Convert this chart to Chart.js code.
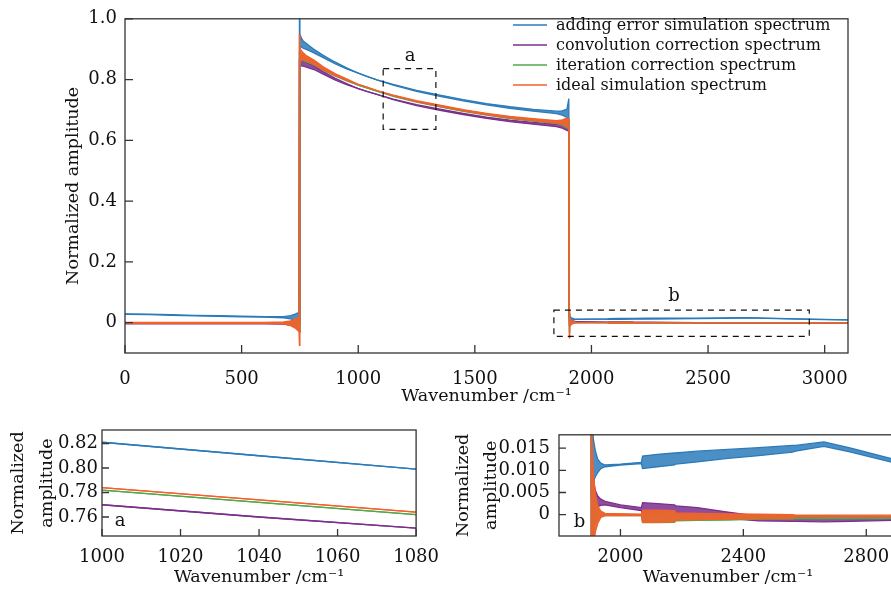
<!DOCTYPE html>
<html>
<head>
<meta charset="utf-8">
<script src="https://cdn.jsdelivr.net/npm/chart.js@4.4.1/dist/chart.umd.min.js"></script>
<style>
  html,body{margin:0;padding:0;background:#fff;overflow:hidden;width:891px;height:590px;}
  canvas{position:absolute;}
</style>
</head>
<body>
<canvas id="main" width="891" height="410" style="left:0px;top:0px;"></canvas>
<canvas id="pa" width="450" height="175" style="left:0px;top:415px;"></canvas>
<canvas id="pb" width="470" height="175" style="left:440px;top:415px;"></canvas>
<script>
// wavenumber grid (cm^-1) shared by all series
const WAVENUMBER=[0,100,200,300,400,500,600,680,710,730,740,746,748,750,756,764,775,790,810,850,900,950,1000,1040,1080,1150,1250,1350,1450,1550,1650,1750,1850,1875,1895,1903,1905,1907,1912,1918,1926,1936,1950,2000,2068,2072,2120,2176,2180,2250,2350,2450,2560,2570,2662,2750,2885,3000,3100];

// each series is drawn as a band between its upper and lower envelope (the ringing)
const BLUE_HI=[0.029,0.028,0.026,0.024,0.023,0.021,0.020,0.020,0.023,0.028,0.032,0.030,1.0,0.95,0.937,0.927,0.92,0.911,0.90,0.88,0.858,0.839,0.821,0.810,0.799,0.784,0.7645,0.749,0.734,0.721,0.7105,0.702,0.696,0.697,0.703,0.737,0.03,0.022,0.017,0.0145,0.0125,0.0116,0.0112,0.0114,0.0118,0.0132,0.0136,0.0139,0.0139,0.0143,0.0147,0.0151,0.0156,0.0156,0.0164,0.0150,0.0126,0.0106,0.0093];
const BLUE_LO=[0.027,0.026,0.024,0.022,0.021,0.019,0.018,0.016,0.012,0.008,0.006,0.004,0.0,0.91,0.907,0.903,0.90,0.895,0.888,0.872,0.852,0.835,0.821,0.810,0.799,0.782,0.7615,0.745,0.730,0.717,0.7055,0.696,0.688,0.683,0.675,0.670,0.004,0.006,0.0075,0.0085,0.0095,0.0104,0.0108,0.0112,0.0115,0.0104,0.0108,0.0112,0.0114,0.0119,0.0127,0.0133,0.0141,0.0143,0.0154,0.0141,0.0118,0.0100,0.0087];

const PURPLE_HI=[-0.002,-0.002,-0.002,-0.002,-0.002,-0.002,-0.002,-0.001,0.003,0.008,0.010,0.008,0.865,0.875,0.865,0.860,0.858,0.852,0.845,0.826,0.805,0.787,0.770,0.760,0.751,0.736,0.7175,0.703,0.689,0.676,0.6665,0.659,0.653,0.654,0.659,0.660,0.020,0.012,0.008,0.0055,0.0042,0.0035,0.0030,0.0022,0.0016,0.0027,0.0025,0.0022,0.0020,0.0016,0.0006,-0.0003,-0.0006,-0.0006,-0.0007,-0.0007,-0.0006,-0.0006,-0.0006];
const PURPLE_LO=[-0.004,-0.004,-0.004,-0.004,-0.004,-0.004,-0.004,-0.005,-0.009,-0.014,-0.018,-0.020,-0.030,0.845,0.845,0.844,0.842,0.838,0.833,0.818,0.799,0.783,0.770,0.760,0.751,0.734,0.7145,0.699,0.685,0.672,0.6615,0.653,0.645,0.640,0.633,0.630,-0.010,-0.004,-0.001,0.0008,0.0018,0.0021,0.0022,0.0016,0.0009,0.0002,0.0003,0.0002,0.0001,-0.0001,-0.0008,-0.0014,-0.0015,-0.0015,-0.0016,-0.0015,-0.0013,-0.0012,-0.0012];

const GREEN_HI=[0,0,0,0,0,0,0,0.001,0.004,0.008,0.010,0.008,0.890,0.890,0.885,0.882,0.877,0.870,0.861,0.839,0.818,0.800,0.782,0.772,0.762,0.747,0.7285,0.714,0.699,0.687,0.6765,0.669,0.663,0.665,0.671,0.668,0.030,0.012,0.006,0.003,0.0015,0.0006,0.0002,0.0001,0.0,0.0006,0.0006,0.0005,0.0002,0.0001,0.0,-0.0001,-0.0002,-0.0002,-0.0002,-0.0003,-0.0003,-0.0003,-0.0003];
const GREEN_LO=[-0.002,-0.002,-0.002,-0.002,-0.002,-0.002,-0.002,-0.003,-0.007,-0.012,-0.015,-0.018,-0.030,0.860,0.863,0.862,0.859,0.855,0.848,0.831,0.812,0.796,0.782,0.772,0.762,0.745,0.7255,0.710,0.695,0.683,0.6715,0.663,0.655,0.651,0.641,0.642,-0.030,-0.008,-0.005,-0.002,-0.001,-0.0004,-0.0002,-0.0002,-0.0002,-0.0018,-0.0018,-0.0017,-0.0014,-0.0013,-0.0012,-0.0010,-0.0010,-0.0009,-0.0009,-0.0009,-0.0008,-0.0008,-0.0008];

const ORANGE_HI=[0.0005,0.0005,0.0005,0.0005,0.0005,0.0005,0.0005,0.002,0.006,0.012,0.015,0.012,0.950,0.905,0.895,0.888,0.880,0.873,0.864,0.842,0.820,0.802,0.784,0.774,0.764,0.749,0.7305,0.716,0.701,0.689,0.6785,0.671,0.665,0.667,0.673,0.672,0.040,0.018,0.009,0.005,0.002,0.0008,0.0003,0.0002,0.0001,0.0010,0.0010,0.0009,0.0004,0.0003,0.0002,0.0001,0.0,-0.0001,-0.0001,-0.0001,-0.0001,-0.0001,-0.0001];
const ORANGE_LO=[-0.0025,-0.0025,-0.0025,-0.0025,-0.0025,-0.0025,-0.0025,-0.004,-0.010,-0.018,-0.025,-0.030,-0.075,0.860,0.865,0.864,0.862,0.857,0.850,0.832,0.814,0.798,0.784,0.774,0.764,0.747,0.7275,0.712,0.697,0.685,0.6735,0.665,0.657,0.653,0.644,0.645,-0.050,-0.012,-0.008,-0.004,-0.002,-0.0006,-0.0002,-0.0002,-0.0002,-0.0017,-0.0017,-0.0016,-0.0012,-0.0011,-0.0010,-0.0009,-0.0008,-0.0005,-0.0005,-0.0005,-0.0005,-0.0005,-0.0005];

const SERIES_NAMES=['adding error simulation spectrum','convolution correction spectrum','iteration correction spectrum','ideal simulation spectrum'];
const SERIES_COLORS=['#2b7bba','#7b2f8c','#52a84a','#f4602c'];
const SERIES_FILLS=['rgba(43,123,186,0.85)','rgba(123,47,140,0.85)','rgba(82,168,74,0.85)','rgba(244,96,44,0.9)'];

// tick values / labels
const MAIN_X_TICKS=[0,500,1000,1500,2000,2500,3000];
const MAIN_X_LABELS=['0','500','1000','1500','2000','2500','3000'];
const MAIN_Y_TICKS=[0,0.2,0.4,0.6,0.8,1.0];
const MAIN_Y_LABELS=['0','0.2','0.4','0.6','0.8','1.0'];
const A_X_TICKS=[1000,1020,1040,1060,1080];
const A_X_LABELS=['1000','1020','1040','1060','1080'];
const A_Y_TICKS=[0.76,0.78,0.80,0.82];
const A_Y_LABELS=['0.76','0.78','0.80','0.82'];
const B_X_TICKS=[2000,2400,2800];
const B_X_LABELS=['2000','2400','2800'];
const B_Y_TICKS=[0,0.005,0.010,0.015];
const B_Y_LABELS=['0','0.005','0.010','0.015'];

const FONT='DejaVu Serif';
const INK='#111';

function buildDatasets(){
  const his=[BLUE_HI,PURPLE_HI,GREEN_HI,ORANGE_HI], los=[BLUE_LO,PURPLE_LO,GREEN_LO,ORANGE_LO];
  const ds=[];
  SERIES_NAMES.forEach((name,k)=>{
    const c=SERIES_COLORS[k], order=SERIES_NAMES.length-k;
    ds.push({label:name,data:WAVENUMBER.map((x,i)=>({x,y:his[k][i]})),borderColor:c,borderWidth:1.3,pointRadius:0,fill:false,order});
    ds.push({label:'',data:WAVENUMBER.map((x,i)=>({x,y:los[k][i]})),borderColor:c,backgroundColor:SERIES_FILLS[k],borderWidth:1.3,pointRadius:0,fill:'-1',order});
  });
  return ds;
}

// box, inward ticks, dashed zoom boxes, text marks, legend
function framePlugin(cfg){
  return {id:'frame',afterDraw(chart){
    const {ctx,chartArea:a,scales:{x,y}}=chart;
    ctx.save();
    ctx.strokeStyle='#333';ctx.lineWidth=1.3;
    ctx.strokeRect(a.left,a.top,a.right-a.left,a.bottom-a.top);
    ctx.beginPath();
    x.ticks.forEach(t=>{const p=x.getPixelForValue(t.value);ctx.moveTo(p,a.bottom);ctx.lineTo(p,a.bottom-cfg.tickLen);});
    y.ticks.forEach(t=>{const p=y.getPixelForValue(t.value);ctx.moveTo(a.left,p);ctx.lineTo(a.left+cfg.tickLen,p);});
    ctx.stroke();
    (cfg.boxes||[]).forEach(b=>{
      ctx.setLineDash([6,5]);ctx.strokeStyle='#111';ctx.lineWidth=1.2;
      const x0=x.getPixelForValue(b.x0),x1=x.getPixelForValue(b.x1),y0=y.getPixelForValue(b.y0),y1=y.getPixelForValue(b.y1);
      ctx.strokeRect(x0,y1,x1-x0,y0-y1);
      ctx.setLineDash([]);
    });
    ctx.fillStyle=INK;ctx.font='18px "'+FONT+'"';ctx.textAlign='center';ctx.textBaseline='middle';
    (cfg.texts||[]).forEach(t=>ctx.fillText(t.text,x.getPixelForValue(t.x),y.getPixelForValue(t.y)));
    if(cfg.legend){
      ctx.font='16px "'+FONT+'"';ctx.textAlign='left';
      chart.data.datasets.filter(d=>d.label).forEach((d,i)=>{
        const yy=25+i*20;
        ctx.strokeStyle=d.borderColor;ctx.lineWidth=1.5;
        ctx.beginPath();ctx.moveTo(513,yy);ctx.lineTo(547,yy);ctx.stroke();
        ctx.fillStyle=INK;ctx.fillText(d.label,556,yy+1);
      });
    }
    ctx.restore();
  }};
}

function makeChart(id,c){
  const tickFont={family:FONT,size:18};
  return new Chart(document.getElementById(id),{
    type:'line',
    data:{datasets:buildDatasets()},
    plugins:[framePlugin(c)],
    options:{
      responsive:false,animation:false,events:[],
      layout:{padding:c.padding},
      plugins:{legend:{display:false},tooltip:{enabled:false}},
      scales:{
        x:{type:'linear',min:c.xMin,max:c.xMax,
          afterBuildTicks:s=>{s.ticks=c.xTicks.map(v=>({value:v}));},
          afterFit:s=>{s.height=c.xH;},
          grid:{display:false,drawTicks:false},border:{display:false},
          ticks:{autoSkip:false,maxRotation:0,padding:c.xPad,color:INK,font:tickFont,callback:(v,i)=>c.xLabels[i]},
          title:{display:true,text:'Wavenumber /cm\u207B\u00B9',color:INK,font:{family:FONT,size:17.5},padding:{top:0,bottom:c.xTitlePad}}},
        y:{type:'linear',min:c.yMin,max:c.yMax,
          afterBuildTicks:s=>{s.ticks=c.yTicks.map(v=>({value:v}));},
          afterFit:s=>{s.width=c.yW;},
          grid:{display:false,drawTicks:false},border:{display:false},
          ticks:{autoSkip:false,padding:c.yPad,color:INK,font:tickFont,callback:(v,i)=>c.yLabels[i]},
          title:{display:true,text:c.yTitle,color:INK,font:{family:FONT,size:17.5,lineHeight:c.yTitleLH},padding:{top:c.yTitlePad,bottom:0}}}
      }
    }
  });
}

makeChart('main',{
  padding:{left:0,right:43,top:13,bottom:0},
  xMin:0,xMax:3100,yMin:-0.1,yMax:1.0,
  xTicks:MAIN_X_TICKS,xLabels:MAIN_X_LABELS,yTicks:MAIN_Y_TICKS,yLabels:MAIN_Y_LABELS,
  xH:57,yW:125,xPad:16,yPad:8,xTitlePad:3,yTitle:'Normalized amplitude',yTitleLH:1.2,yTitlePad:63,
  tickLen:8,legend:true,
  boxes:[{x0:1107,x1:1333,y0:0.636,y1:0.836},{x0:1839,x1:2934,y0:-0.045,y1:0.041}],
  texts:[{text:'a',x:1222,y:0.877},{text:'b',x:2354,y:0.0876}]
});

makeChart('pa',{
  padding:{left:0,right:27,top:15,bottom:0},
  xMin:1000,xMax:1080,yMin:0.7445,yMax:0.831,
  xTicks:A_X_TICKS,xLabels:A_X_LABELS,yTicks:A_Y_TICKS,yLabels:A_Y_LABELS,
  xH:54,yW:102,xPad:11,yPad:4,xTitlePad:2,yTitle:['Normalized','amplitude'],yTitleLH:1.65,yTitlePad:4,
  tickLen:7,
  texts:[{text:'a',x:1004.6,y:0.7565}]
});

makeChart('pb',{
  padding:{left:0,right:13,top:15,bottom:0},
  xMin:1800,xMax:2900,yMin:-0.0048,yMax:0.018,
  xTicks:B_X_TICKS,xLabels:B_X_LABELS,yTicks:B_Y_TICKS,yLabels:B_Y_LABELS,
  xH:54,yW:119,xPad:11,yPad:9,xTitlePad:2,yTitle:['Normalized','amplitude'],yTitleLH:1.6,yTitlePad:9,
  tickLen:7,
  texts:[{text:'b',x:1867,y:-0.0018}]
});
</script>
</body>
</html>
